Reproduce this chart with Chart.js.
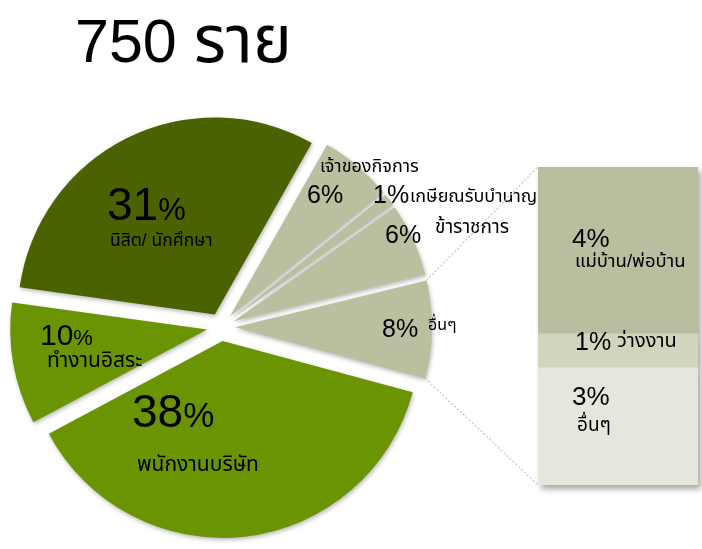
<!DOCTYPE html>
<html>
<head>
<meta charset="utf-8">
<script src="https://cdn.jsdelivr.net/npm/chart.js"></script>
<style>
  body { margin: 0; background: #fff; }
  #wrap { position: relative; width: 702px; height: 549px; }
  #wrap canvas { position: absolute; left: 0; top: 0; }
</style>
</head>
<body>
<div id="wrap">
  <canvas id="pieChart" width="702" height="549"></canvas>
  <canvas id="barChart" width="702" height="549"></canvas>
</div>
<script>
// pie of bar, 750 respondents
const titleCount = '750';
const titleUnit = 'ราย';
const pieLabels = ['เจ้าของกิจการ', 'เกษียณรับบำนาญ', 'ข้าราชการ', 'อื่นๆ', 'พนักงานบริษัท', 'ทำงานอิสระ', 'นิสิต/ นักศึกษา'];
const pieValues = [6, 1, 6, 8, 38, 10, 31];
const pieColors = ['#bcbea0', '#bcbea0', '#bcbea0', '#bcbea0', '#6b9402', '#6b9402', '#4b6200'];
// the "other" slice split out, bottom to top
const barLabels = ['อื่นๆ', 'ว่างงาน', 'แม่บ้าน/พ่อบ้าน'];
const barValues = [2.95, 0.85, 4.2];
const barColors = ['#e6e6dc', '#d3d4bd', '#bbbd9f'];

const OTHER = 3; // index of the slice that is broken out into the bar
const EXPLODE = 14;
const NUM_FONT = "'Liberation Sans', Arial, sans-serif";
const THAI_FONT = "'Liberation Sans', 'Noto Sans Thai', Tahoma, sans-serif";

// label placement (left x, baseline y, sizes)
const pieTextLayout = [
  { x: 307, y: 203, num: 25, pct: 25, nx: 320, ny: 172, ns: 18 },
  { x: 373, y: 203, num: 25, pct: 25, nx: 410, ny: 202, ns: 18 },
  { x: 385, y: 243, num: 25, pct: 25, nx: 435, ny: 233, ns: 19 },
  { x: 382, y: 337, num: 25, pct: 25, nx: 428, ny: 330, ns: 16 },
  { x: 132, y: 427, num: 46, pct: 35, nx: 137, ny: 471, ns: 21 },
  { x: 40, y: 345, num: 30, pct: 22, nx: 47, ny: 367, ns: 21 },
  { x: 107, y: 220, num: 46, pct: 31, nx: 110, ny: 246, ns: 17.5 },
];
const barTextLayout = [
  { x: 572, y: 405, num: 26, pct: 26, nx: 577, ny: 431, ns: 19 },
  { x: 575, y: 350, num: 25, pct: 25, nx: 617, ny: 347, ns: 20 },
  { x: 572, y: 247, num: 26, pct: 26, nx: 575, ny: 267, ns: 18.5 },
];

function drawPct(ctx, value, l) {
  const digits = String(value);
  ctx.fillStyle = '#000';
  ctx.textBaseline = 'alphabetic';
  ctx.textAlign = 'left';
  ctx.font = l.num + 'px ' + NUM_FONT;
  ctx.fillText(digits, l.x, l.y);
  const w = ctx.measureText(digits).width;
  ctx.font = l.pct + 'px ' + NUM_FONT;
  ctx.fillText('%', l.x + w, l.y);
}

function drawName(ctx, text, l) {
  ctx.fillStyle = '#000';
  ctx.font = l.ns + 'px ' + THAI_FONT;
  ctx.fillText(text, l.nx, l.ny);
}

// draw each slice pushed out along its middle angle
const explodePlugin = {
  id: 'explode',
  beforeDatasetDraw(chart, args) {
    const ctx = chart.ctx;
    args.meta.data.forEach(arc => {
      const mid = (arc.startAngle + arc.endAngle) / 2;
      ctx.save();
      ctx.translate(Math.cos(mid) * EXPLODE, Math.sin(mid) * EXPLODE);
      ctx.shadowColor = 'rgba(0,0,0,0.28)';
      ctx.shadowBlur = 4;
      ctx.shadowOffsetX = 1;
      ctx.shadowOffsetY = 2;
      arc.draw(ctx);
      ctx.restore();
    });
    return false;
  },
  afterDraw(chart) {
    const ctx = chart.ctx;
    ctx.save();
    ctx.fillStyle = '#000';
    ctx.textBaseline = 'alphabetic';
    ctx.font = '61px ' + NUM_FONT;
    ctx.fillText(titleCount + ' ', 75, 62);
    const w = ctx.measureText(titleCount + ' ').width;
    ctx.font = '66px ' + THAI_FONT;
    ctx.fillText(titleUnit, 75 + w, 62);
    pieValues.forEach((v, i) => {
      drawPct(ctx, v, pieTextLayout[i]);
      drawName(ctx, pieLabels[i], pieTextLayout[i]);
    });
    ctx.restore();
  },
};

const pieChart = new Chart('pieChart', {
  type: 'pie',
  data: {
    labels: pieLabels,
    datasets: [
      {
        data: pieValues,
        backgroundColor: pieColors,
        borderWidth: 0,
      },
    ],
  },
  options: {
    responsive: false,
    animation: false,
    events: [],
    rotation: 29.5,
    layout: { padding: { left: 24, top: 130, right: 284, bottom: 25 } },
    plugins: { legend: { display: false }, tooltip: { enabled: false } },
  },
  plugins: [explodePlugin],
});

const barPlugin = {
  id: 'barExtras',
  beforeDatasetsDraw(chart) {
    // soft drop shadow under the stacked column
    const ctx = chart.ctx;
    ctx.save();
    ctx.shadowColor = 'rgba(0,0,0,0.35)';
    ctx.shadowBlur = 6;
    ctx.shadowOffsetX = 3;
    ctx.shadowOffsetY = 4;
    chart.data.datasets.forEach((ds, i) => {
      chart.getDatasetMeta(i).data.forEach(bar => {
        const top = Math.min(bar.y, bar.base);
        ctx.fillStyle = ds.backgroundColor;
        ctx.fillRect(bar.x - bar.width / 2, top, bar.width, Math.abs(bar.base - bar.y));
      });
    });
    ctx.restore();
  },
  afterDraw(chart) {
    const ctx = chart.ctx;
    // connector lines from the "other" slice to the column
    const arc = pieChart.getDatasetMeta(0).data[OTHER];
    const mid = (arc.startAngle + arc.endAngle) / 2;
    const cx = arc.x + Math.cos(mid) * EXPLODE;
    const cy = arc.y + Math.sin(mid) * EXPLODE;
    const p1 = [cx + Math.cos(arc.startAngle) * arc.outerRadius, cy + Math.sin(arc.startAngle) * arc.outerRadius];
    const p2 = [cx + Math.cos(arc.endAngle) * arc.outerRadius, cy + Math.sin(arc.endAngle) * arc.outerRadius];
    const metaTop = chart.getDatasetMeta(barValues.length - 1).data[0];
    const metaBottom = chart.getDatasetMeta(0).data[0];
    const left = metaTop.x - metaTop.width / 2;
    ctx.save();
    ctx.strokeStyle = '#dcbfa6';
    ctx.lineWidth = 1.2;
    ctx.setLineDash([2, 2]);
    ctx.beginPath();
    ctx.moveTo(p1[0], p1[1]);
    ctx.lineTo(left, metaTop.y);
    ctx.moveTo(p2[0], p2[1]);
    ctx.lineTo(left, metaBottom.base);
    ctx.stroke();
    ctx.restore();

    ctx.save();
    barValues.forEach((v, i) => {
      drawPct(ctx, Math.round(v), barTextLayout[i]);
      drawName(ctx, barLabels[i], barTextLayout[i]);
    });
    ctx.restore();
  },
};

new Chart('barChart', {
  type: 'bar',
  data: {
    labels: ['อื่นๆ'],
    datasets: barValues.map((v, i) => ({
      label: barLabels[i],
      data: [v],
      backgroundColor: barColors[i],
      borderWidth: 0,
      barPercentage: 1,
      categoryPercentage: 1,
    })),
  },
  options: {
    responsive: false,
    animation: false,
    events: [],
    layout: { padding: { left: 538, top: 167, right: 4, bottom: 64 } },
    scales: {
      x: { stacked: true, display: false },
      y: { stacked: true, display: false, min: 0, max: barValues.reduce((a, b) => a + b, 0) },
    },
    plugins: { legend: { display: false }, tooltip: { enabled: false } },
  },
  plugins: [barPlugin],
});
</script>
</body>
</html>
